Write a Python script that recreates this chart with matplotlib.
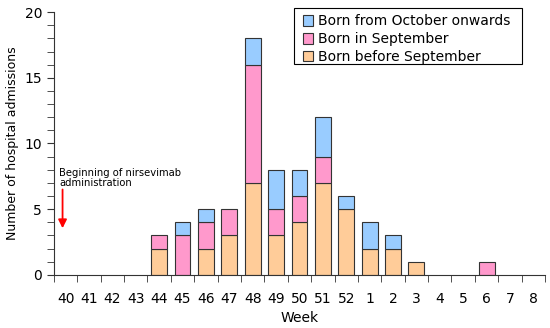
import matplotlib.pyplot as plt
import numpy as np
from matplotlib.patches import Patch, Rectangle
from matplotlib.ticker import MultipleLocator

weeks = ["40", "41", "42", "43", "44", "45", "46", "47", "48", "49", "50",
         "51", "52", "1", "2", "3", "4", "5", "6", "7", "8"]
born_before_sep = [0, 0, 0, 0, 2, 0, 2, 3, 7, 3, 4, 7, 5, 2, 2, 1, 0, 0, 0, 0, 0]
born_in_sep = [0, 0, 0, 0, 1, 3, 2, 2, 9, 2, 2, 2, 0, 0, 0, 0, 0, 0, 1, 0, 0]
born_from_oct = [0, 0, 0, 0, 0, 1, 1, 0, 2, 3, 2, 3, 1, 2, 1, 0, 0, 0, 0, 0, 0]
series_labels = ["Born before September", "Born in September", "Born from October onwards"]

ORANGE = "#FFCC99"
PINK = "#FF99CC"
BLUE = "#99CCFF"
EDGE = "#333333"
BAR_WIDTH = 0.68

fig = plt.figure(figsize=(5.5, 3.28), dpi=100)
ax = fig.add_axes([0.098, 0.162, 0.893, 0.801])

x = np.arange(len(weeks))
before = np.array(born_before_sep)
sep = np.array(born_in_sep)
octo = np.array(born_from_oct)

kw = dict(width=BAR_WIDTH, edgecolor=EDGE, linewidth=0.8)
b1 = ax.bar(x, before, color=ORANGE, **kw)
b2 = ax.bar(x, sep, bottom=before, color=PINK, **kw)
b3 = ax.bar(x, octo, bottom=before + sep, color=BLUE, **kw)
# hide zero-height segments so they don't draw outlines on the axis
for bars, vals in ((b1, before), (b2, sep), (b3, octo)):
    for bar, v in zip(bars, vals):
        if v == 0:
            bar.set_visible(False)

ax.set_xlim(-0.5, len(weeks) - 0.5)
ax.set_ylim(0, 20)
ax.set_xticks(x)
ax.set_xticklabels(weeks)
ax.set_xticks(np.arange(-0.5, len(weeks)), minor=True)
ax.tick_params(axis="x", which="major", length=0, pad=12, labelsize=10)
ax.tick_params(axis="x", which="minor", length=5, direction="out", color=EDGE)
ax.yaxis.set_major_locator(MultipleLocator(5))
ax.yaxis.set_minor_locator(MultipleLocator(1))
ax.tick_params(axis="y", which="both", length=5, direction="out", color=EDGE, labelsize=10)
for side in ("top", "right"):
    ax.spines[side].set_visible(False)
for side in ("left", "bottom"):
    ax.spines[side].set_color(EDGE)

ax.set_xlabel("Week", fontsize=10, labelpad=4)
ax.set_ylabel("Number of hospital admissions", fontsize=9, labelpad=4)

ax.text(-0.27, 8.1, "Beginning of nirsevimab\nadministration", fontsize=7.2,
        va="top", ha="left", linespacing=1.0)
ax.annotate("", xy=(-0.13, 3.55), xytext=(-0.13, 6.5),
            arrowprops=dict(arrowstyle="-|>,head_width=0.25,head_length=0.5",
                            color="red", lw=1.3, mutation_scale=10,
                            shrinkA=0, shrinkB=0))

handles = [Patch(facecolor=c, edgecolor=EDGE, linewidth=0.8) for c in (BLUE, PINK, ORANGE)]
leg = ax.legend(handles, series_labels[::-1],
                loc="upper right", bbox_to_anchor=(0.939, 1.01), fontsize=10,
                frameon=False, handlelength=0.75, handleheight=0.75,
                handletextpad=0.35, labelspacing=0.28, borderpad=0.35,
                borderaxespad=0)
# legend frame drawn separately: wider side padding than matplotlib allows
fig.patches.append(Rectangle((294 / 550, 1 - 64 / 328), 228 / 550, 56 / 328,
                             transform=fig.transFigure, fill=False,
                             edgecolor="black", linewidth=0.8))

fig.savefig("out.png", dpi=100)
